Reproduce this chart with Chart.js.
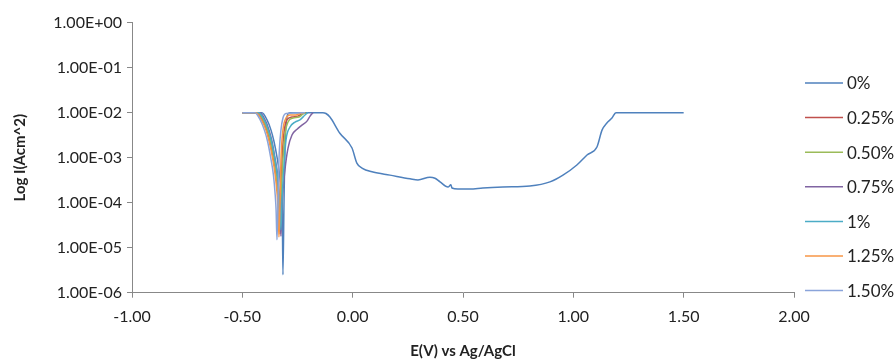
<!DOCTYPE html>
<html>
<head>
<meta charset="utf-8">
<title>Polarisation curves</title>
<script src="https://cdn.jsdelivr.net/npm/chart.js@4.4.1/dist/chart.umd.min.js"></script>
<style>
  html, body { margin: 0; padding: 0; background: #fff; }
</style>
</head>
<body>
<canvas id="tafel" width="896" height="360"></canvas>
<script>
// series names (inhibitor concentration)
const seriesNames = ['0%', '0.25%', '0.50%', '0.75%', '1%', '1.25%', '1.50%'];
const seriesColors = ['#4F81BD', '#C0504D', '#9BBB59', '#8064A2', '#4BACC6', '#F79646', '#8AA4DA'];

// potential E (V vs Ag/AgCl) and current I (A/cm^2)
const e0 = [-0.50, -0.411, -0.388, -0.370, -0.357, -0.343, -0.331, -0.3235, -0.319, -0.316, -0.311, -0.307, -0.302,
  -0.293, -0.284, -0.180, -0.135, -0.121, -0.103, -0.058, -0.003, 0.019, 0.042, 0.092, 0.169, 0.260, 0.296, 0.350,
  0.373, 0.396, 0.432, 0.445, 0.450, 0.477, 0.531, 0.590, 0.681, 0.803, 0.894, 0.953, 1.016, 1.062, 1.107, 1.130,
  1.152, 1.175, 1.193, 1.50];
const i0 = [1e-2, 1e-2, 6.9e-3, 4.1e-3, 2.35e-3, 1.04e-3, 4.1e-4, 1.48e-4, 6.9e-5, 2.5e-6, 1.15e-4, 1.5e-3, 5.3e-3,
  9.4e-3, 1e-2, 1e-2, 1e-2, 9.6e-3, 8.0e-3, 3.5e-3, 1.64e-3, 7.6e-4, 5.9e-4, 4.8e-4, 4.1e-4, 3.4e-4, 3.2e-4, 3.7e-4,
  3.5e-4, 2.9e-4, 2.23e-4, 2.5e-4, 2.12e-4, 2.01e-4, 2.01e-4, 2.12e-4, 2.23e-4, 2.35e-4, 2.9e-4, 4.1e-4, 6.9e-4,
  1.15e-3, 1.73e-3, 4.1e-3, 5.9e-3, 7.6e-3, 1e-2, 1e-2];

const e025 = [-0.50, -0.434, -0.409, -0.389, -0.374, -0.360, -0.346, -0.338, -0.333, -0.329,
  -0.325, -0.320, -0.311, -0.298, -0.275, -0.248, -0.225, -0.212];
const i025 = [1e-2, 1e-2, 6.9e-3, 4.1e-3, 2.35e-3, 1.04e-3, 4.1e-4, 1.48e-4, 6.9e-5, 2.0e-5,
  1.15e-4, 8.9e-4, 3.7e-3, 6.9e-3, 8.0e-3, 8.4e-3, 9.6e-3, 1e-2];

const e050 = [-0.50, -0.429, -0.405, -0.386, -0.372, -0.358, -0.345, -0.338, -0.333, -0.329,
  -0.325, -0.316, -0.307, -0.293, -0.270, -0.243, -0.225, -0.212];
const i050 = [1e-2, 1e-2, 6.9e-3, 4.1e-3, 2.35e-3, 1.04e-3, 4.1e-4, 1.48e-4, 6.9e-5, 2.23e-5,
  1.15e-4, 8.9e-4, 3.2e-3, 6.2e-3, 7.6e-3, 8.0e-3, 9.4e-3, 1e-2];

const e075 = [-0.50, -0.420, -0.397, -0.379, -0.366, -0.353, -0.340, -0.333, -0.329, -0.325,
  -0.320, -0.307, -0.293, -0.275, -0.252, -0.230, -0.207, -0.193, -0.180];
const i075 = [1e-2, 1e-2, 6.9e-3, 4.1e-3, 2.35e-3, 1.04e-3, 4.1e-4, 1.48e-4, 6.9e-5, 1.8e-5,
  8.9e-5, 5.3e-4, 1.64e-3, 3.2e-3, 4.3e-3, 5.3e-3, 6.5e-3, 8.4e-3, 1e-2];

const e100 = [-0.50, -0.425, -0.401, -0.382, -0.368, -0.354, -0.341, -0.333, -0.329, -0.325,
  -0.320, -0.311, -0.302, -0.284, -0.261, -0.239, -0.216, -0.203];
const i100 = [1e-2, 1e-2, 6.9e-3, 4.1e-3, 2.35e-3, 1.04e-3, 4.1e-4, 1.48e-4, 6.9e-5, 2.5e-5,
  1.15e-4, 6.9e-4, 2.5e-3, 4.8e-3, 6.2e-3, 6.9e-3, 8.9e-3, 1e-2];

const e125 = [-0.50, -0.438, -0.413, -0.393, -0.379, -0.364, -0.351, -0.342, -0.338, -0.334,
  -0.329, -0.325, -0.316, -0.302, -0.284, -0.257, -0.239, -0.221];
const i125 = [1e-2, 1e-2, 6.9e-3, 4.1e-3, 2.35e-3, 1.04e-3, 4.1e-4, 1.48e-4, 6.9e-5, 1.73e-5,
  1.15e-4, 8.9e-4, 4.1e-3, 7.6e-3, 8.9e-3, 8.9e-3, 9.6e-3, 1e-2];

const e150 = [-0.50, -0.443, -0.419, -0.400, -0.386, -0.372, -0.359, -0.351, -0.347, -0.343,
  -0.338, -0.334, -0.325, -0.316, -0.302, -0.216];
const i150 = [1e-2, 1e-2, 6.9e-3, 4.1e-3, 2.35e-3, 1.04e-3, 4.1e-4, 1.48e-4, 6.9e-5, 1.5e-5,
  1.15e-4, 8.9e-4, 4.1e-3, 7.6e-3, 9.6e-3, 1e-2];

// axis ticks
const xTicks = [-1, -0.5, 0, 0.5, 1, 1.5, 2];
const xTickLabels = ['-1.00', '-0.50', '0.00', '0.50', '1.00', '1.50', '2.00'];
const yTicks = [1e-6, 1e-5, 1e-4, 1e-3, 1e-2, 1e-1, 1];
const yTickLabels = ['1.00E-06', '1.00E-05', '1.00E-04', '1.00E-03', '1.00E-02', '1.00E-01', '1.00E+00'];

const potentials = [e0, e025, e050, e075, e100, e125, e150];
const currents = [i0, i025, i050, i075, i100, i125, i150];

const textColor = '#222';
const axisColor = '#888';

const toPoints = (xs, ys) => xs.map((x, k) => ({ x: x, y: ys[k] }));

// legend drawn beside the plot, one line sample per series
const sideLegend = {
  id: 'sideLegend',
  afterDraw(chart) {
    const { ctx, chartArea } = chart;
    const x0 = chartArea.right + 11;
    ctx.save();
    ctx.font = '17px Lato';
    ctx.textBaseline = 'middle';
    ctx.textAlign = 'left';
    chart.data.datasets.forEach((ds, k) => {
      const y = 83 + k * 34.6;
      ctx.strokeStyle = ds.borderColor;
      ctx.lineWidth = 1.5;
      ctx.beginPath();
      ctx.moveTo(x0, y);
      ctx.lineTo(x0 + 38, y);
      ctx.stroke();
      ctx.fillStyle = textColor;
      ctx.fillText(ds.label, x0 + 42, y + 1);
    });
    ctx.restore();
  }
};

const datasets = seriesNames.map((name, k) => ({
  label: name,
  data: toPoints(potentials[k], currents[k]),
  borderColor: seriesColors[k],
  backgroundColor: seriesColors[k],
  borderWidth: 1.5,
  pointRadius: 0,
  tension: 0.3,
  cubicInterpolationMode: 'monotone',
  order: seriesNames.length - k
}));

new Chart(document.getElementById('tafel'), {
  type: 'line',
  data: { datasets: datasets },
  options: {
    responsive: false,
    animation: false,
    layout: { padding: { left: 0, top: 22.7, right: 102, bottom: 0 } },
    plugins: {
      legend: { display: false },
      tooltip: { enabled: false }
    },
    scales: {
      x: {
        type: 'linear',
        min: -1,
        max: 2,
        afterBuildTicks: (s) => { s.ticks = xTicks.map((v) => ({ value: v })); },
        afterFit: (s) => { s.height = 67.3; },
        ticks: {
          callback: (v, idx) => xTickLabels[idx],
          font: { family: 'Lato', size: 16 },
          color: textColor,
          padding: 10,
          maxRotation: 0,
          autoSkip: false
        },
        grid: { drawOnChartArea: false, drawTicks: true, tickLength: 5, color: axisColor },
        border: { color: axisColor, width: 1 },
        title: {
          display: true,
          text: 'E(V) vs Ag/AgCl',
          font: { family: 'Lato', size: 15, weight: 'bold' },
          color: textColor,
          padding: { top: 0, bottom: 0 }
        }
      },
      y: {
        type: 'logarithmic',
        min: 1e-6,
        max: 1,
        afterBuildTicks: (s) => { s.ticks = yTicks.map((v) => ({ value: v })); },
        afterFit: (s) => { s.width = 132; },
        ticks: {
          callback: (v, idx) => yTickLabels[idx],
          font: { family: 'Lato', size: 16 },
          color: textColor,
          padding: 5,
          autoSkip: false
        },
        grid: { drawOnChartArea: false, drawTicks: true, tickLength: 5, color: axisColor },
        border: { color: axisColor, width: 1 },
        title: {
          display: true,
          text: 'Log I(Acm^2)',
          font: { family: 'Lato', size: 15, weight: 'bold' },
          color: textColor,
          padding: { top: 11, bottom: 0 }
        }
      }
    }
  },
  plugins: [sideLegend]
});
</script>
</body>
</html>
